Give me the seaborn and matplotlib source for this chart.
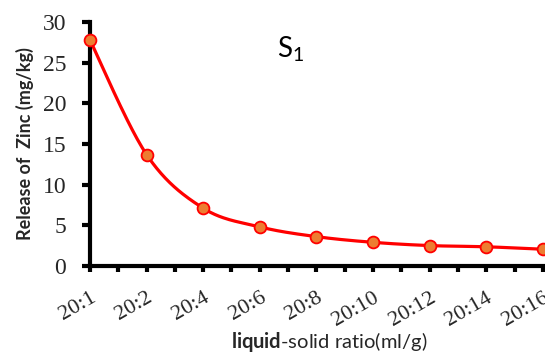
import numpy as np
import pandas as pd
import matplotlib
matplotlib.use("Agg")
import matplotlib.pyplot as plt
import seaborn as sns
from matplotlib.ticker import MultipleLocator

categories = ["20:1", "20:2", "20:4", "20:6", "20:8", "20:10", "20:12", "20:14", "20:16"]
zinc_release = [27.8, 13.7, 7.1, 4.8, 3.6, 2.9, 2.5, 2.35, 2.05]
y_ticks = [0, 5, 10, 15, 20, 25, 30]

sns.set_theme(style="ticks")
plt.rcParams["font.family"] = ["Lato", "DejaVu Sans"]
plt.rcParams["mathtext.fontset"] = "custom"
plt.rcParams["mathtext.rm"] = "Lato"
plt.rcParams["mathtext.bf"] = "Lato:bold"
plt.rcParams["mathtext.default"] = "regular"

pos = np.arange(len(categories), dtype=float)
df = pd.DataFrame({"pos": pos, "release": zinc_release, "ratio": categories})

# Excel-like smoothed curve (Catmull-Rom Bezier in screen-scaled space)
sx, sy = 56.6, 8.13
P = np.column_stack([pos * sx, np.array(zinc_release) * sy])
Pe = np.vstack([P[0], P, P[-1]])
curve = []
t = np.linspace(0, 1, 40)[:, None]
for i in range(len(P) - 1):
    p0, p1, p2, p3 = Pe[i], Pe[i + 1], Pe[i + 2], Pe[i + 3]
    c1 = p1 + (p2 - p0) / 6
    c2 = p2 - (p3 - p1) / 6
    seg = ((1 - t) ** 3) * p1 + 3 * ((1 - t) ** 2) * t * c1 + 3 * (1 - t) * t ** 2 * c2 + t ** 3 * p2
    curve.append(seg if i == 0 else seg[1:])
curve = np.vstack(curve)
smooth = pd.DataFrame({"x": curve[:, 0] / sx, "y": curve[:, 1] / sy})

fig = plt.figure(figsize=(5.45, 3.55), dpi=100)
ax = fig.add_axes([0.165, 0.251, 0.831, 0.687])

sns.lineplot(data=smooth, x="x", y="y", ax=ax, color="#FF0000", linewidth=2.3,
             sort=False, estimator=None, clip_on=False)
ax.plot(df["pos"], df["release"], linestyle="none", marker="o", markersize=8.5,
        markerfacecolor="#ED7D31", markeredgecolor="#FF0000", markeredgewidth=1.3,
        clip_on=False, zorder=5)

ax.set_xlim(0, len(categories) - 1)
ax.set_ylim(0, 30)
ax.set_yticks(y_ticks)
ax.set_xticks(pos)
ax.xaxis.set_minor_locator(MultipleLocator(0.5))
ax.set_xticklabels(categories, rotation=30, ha="right", rotation_mode="anchor",
                   fontfamily="Liberation Serif", fontsize=16)
ax.set_yticklabels([str(v) for v in y_ticks], fontfamily="Liberation Serif", fontsize=17)

for side in ["top", "right"]:
    ax.spines[side].set_visible(False)
for side in ["left", "bottom"]:
    ax.spines[side].set_linewidth(3)
    ax.spines[side].set_color("black")
    ax.spines[side].set_capstyle("projecting")

ax.tick_params(axis="y", which="major", length=6, width=3, color="black", pad=11)
ax.tick_params(axis="x", which="major", length=4, width=3, color="black", pad=12)
ax.tick_params(axis="x", which="minor", length=4, width=3, color="black")
ax.tick_params(axis="y", which="minor", length=0)

ax.set_ylabel("Release of  Zinc (mg/kg)", fontsize=13, fontweight="bold", labelpad=6)
ax.set_xlabel(r"$\bf{liquid}$-solid ratio(ml/g)", fontsize=14.5, labelpad=6)
ax.xaxis.set_label_coords(0.528, -0.262, transform=ax.transAxes)
ax.xaxis.label.set_va("top")

ax.text(3.55, 26.6, r"S$_{1}$", fontsize=20, ha="center", va="center", color="black")

fig.savefig("out.png", dpi=100)
